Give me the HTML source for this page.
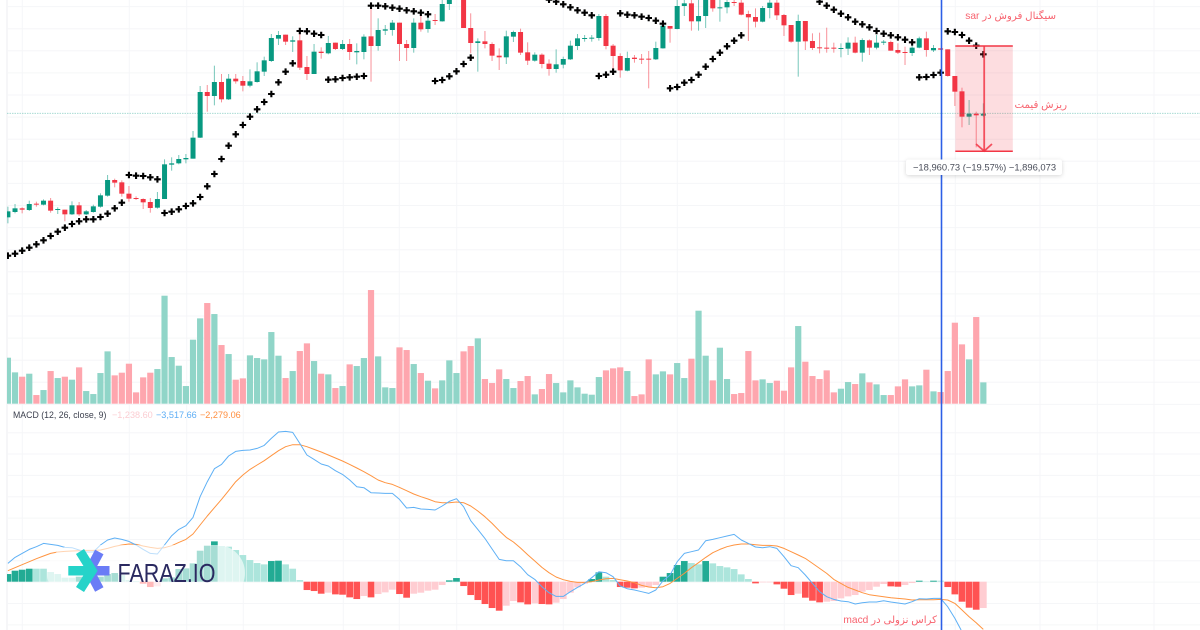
<!DOCTYPE html>
<html lang="en">
<head>
<meta charset="utf-8">
<title>Price chart with MACD</title>
<style>
html,body{margin:0;padding:0;background:#fff;width:1200px;height:630px;overflow:hidden}
svg{display:block;position:absolute;left:0;top:0;filter:blur(0.3px)}
text{font-family:"Liberation Sans","DejaVu Sans",sans-serif}
</style>
</head>
<body>
<svg id="chart" width="1200" height="630" viewBox="0 0 1200 630" xmlns="http://www.w3.org/2000/svg">
  <defs>
    <clipPath id="plotClip"><rect x="7" y="0" width="1193" height="630"/></clipPath>
    <filter id="tipShadow" x="-10%" y="-40%" width="120%" height="200%"><feDropShadow dx="0" dy="1" stdDeviation="2" flood-color="#000" flood-opacity="0.16"/></filter>
  </defs>
  <rect x="0" y="0" width="1200" height="630" fill="#fff"/>
  <line x1="7" y1="0" x2="7" y2="630" stroke="#eceef2" stroke-width="1"/>
  <g id="grid"></g>
  <g clip-path="url(#plotClip)">
    <g id="volumes"></g>
    <g id="candles"></g>
    <g id="priceLine"></g>
    <g id="sar"></g>
    <g id="histogram"></g>
    <g id="macdLines"></g>
  </g>

  <rect x="47" y="545" width="198" height="56" rx="28" ry="28" fill="#fff" fill-opacity="0.6"/>
  <g>
    <g fill="none" stroke-width="9.5" stroke-linejoin="miter">
      <polyline points="99.3,552 89.3,570.7 99.3,589.5" stroke="#6a7cf6"/>
      <line x1="89.3" y1="570.7" x2="109.5" y2="570.7" stroke="#6a7cf6"/>
      <polyline points="80,551.5 92,570.7 80,589.5" stroke="#25d3c9"/>
      <line x1="68.3" y1="570.7" x2="92" y2="570.7" stroke="#25d3c9"/>
    </g>
    <text x="117.5" y="581.8" font-size="25.5" fill="#2a2960" textLength="98" lengthAdjust="spacingAndGlyphs">FARAZ.IO</text>
  </g>

  <g>
    <text x="13" y="418" font-size="8.75" fill="#3b3f4d">MACD (12, 26, close, 9)</text>
    <text x="112" y="418" font-size="9.1" fill="#fbcdd2">−1,238.60</text>
    <text x="156" y="418" font-size="9.1" fill="#5eaef5">−3,517.66</text>
    <text x="200" y="418" font-size="9.1" fill="#ff8f3f">−2,279.06</text>
  </g>

  <line x1="941.5" y1="0" x2="941.5" y2="630" stroke="#2c5fe6" stroke-width="1.6"/>

  <g>
    <rect x="955.3" y="46" width="57.5" height="105.3" fill="#f23645" fill-opacity="0.17"/>
    <line x1="955.3" y1="46" x2="1012.8" y2="46" stroke="#f23645" stroke-width="1.5"/>
    <line x1="955.3" y1="151.3" x2="1012.8" y2="151.3" stroke="#f23645" stroke-width="1.5"/>
    <line x1="984.2" y1="46" x2="984.2" y2="151" stroke="#f23645" stroke-opacity="0.85" stroke-width="1.8"/>
    <polyline points="976,144 984.2,151 992,144" fill="none" stroke="#f23645" stroke-opacity="0.85" stroke-width="1.8"/>
    <rect x="906" y="159.5" width="156" height="15.5" rx="2.5" fill="#fff" filter="url(#tipShadow)"/>
    <text x="984.5" y="170.6" font-size="9.4" fill="#4a4e5a" text-anchor="middle">−18,960.73 (−19.57%) −1,896,073</text>
  </g>

  <text x="1056" y="19" font-size="10.2" fill="#f7626e" direction="rtl" text-anchor="start">سیگنال فروش در sar</text>
  <text x="1067" y="108" font-size="10.2" fill="#f7626e" direction="rtl" text-anchor="start">ریزش قیمت</text>
  <text x="937" y="623" font-size="10.2" fill="#f7626e" direction="rtl" text-anchor="start">کراس نزولی در macd</text>
</svg>

<script>
const opens = [248,264,275,270,289,286,298,272,271,257,284,257,264,280,313,360,353,319,306,303,294,277,303,406,410,422,424,487,624,612,654,602,664,657,643,654,685,717,784,796,775,779,699,678,745,740,772,753,768,743,744,791,762,808,810,832,768,756,832,813,840,836,888,905,910,816,771,776,768,733,728,790,804,743,718,736,709,693,706,722,762,784,784,786,852,763,732,688,727,724,724,722,755,822,813,882,890,836,852,900,875,878,894,892,858,849,835,876,892,855,825,775,837,777,758,757,757,754,754,772,742,779,757,773,774,750,744,741,757,785,749,755,752,672,626,550,559,553];
const closes = [266,275,271,288,287,298,268,273,257,284,257,266,281,314,360,352,319,304,303,293,276,303,407,410,423,426,487,624,612,654,602,664,656,643,656,686,719,786,795,775,779,697,678,745,741,771,753,768,744,747,790,762,810,812,832,768,756,832,812,838,837,888,900,935,816,771,776,768,733,728,791,804,742,718,736,708,693,707,723,763,785,786,787,852,762,732,689,726,723,722,722,756,823,814,882,890,836,852,900,875,878,894,892,856,848,835,876,892,854,824,775,837,776,756,756,755,755,756,772,742,780,757,772,775,748,742,742,757,785,750,756,751,672,625,550,559,554,559];
const highs = [280,288,278,298,295,302,306,278,271,296,294,270,286,320,375,364,359,342,311,305,306,324,422,428,435,438,507,642,645,703,678,678,678,672,692,713,730,798,807,796,791,800,732,768,758,792,772,780,783,770,797,885,845,825,840,832,780,845,860,850,858,900,930,950,920,860,785,807,773,755,808,808,814,773,743,740,722,752,730,778,798,795,795,858,858,768,740,745,735,738,747,775,828,822,905,905,905,900,905,905,905,905,905,905,868,875,882,905,905,858,825,856,837,800,802,817,772,770,788,790,785,782,795,780,778,770,760,782,790,805,765,755,752,672,637,600,565,590];
const lows = [230,260,260,267,280,284,262,258,236,255,252,254,262,277,310,338,310,295,300,273,262,274,303,388,407,410,424,486,565,584,593,600,649,626,638,652,672,714,765,765,744,690,660,678,724,737,750,750,720,707,722,655,748,795,793,717,717,742,805,802,825,835,870,905,816,740,685,755,717,690,708,774,735,705,715,695,673,682,695,720,750,775,775,778,752,685,667,686,712,708,635,720,754,772,812,852,808,808,816,865,835,860,882,854,777,818,833,845,840,792,772,670,750,750,740,742,742,728,735,740,715,735,752,765,748,738,705,732,755,730,744,750,670,582,518,525,458,550];
const sarValues = [133,139,148,157,167,179,192,205,217,228,236,242,242,249,259,275,292,375,373,372,368,362,261,265,272,282,290,309,341,378,423,463,497,525,550,572,594,618,653,685,710,807,806,799,795,661,662,666,668,670,672,883,883,881,877,874,869,866,862,857,657,660,671,686,708,727,null,null,null,null,null,null,null,null,null,null,901,895,887,878,869,862,854,672,676,685,860,856,854,850,846,838,829,635,639,652,660,676,700,723,742,761,778,794,null,null,null,null,null,null,null,null,null,null,895,883,871,859,848,835,827,818,807,799,794,788,781,773,668,669,675,682,806,804,795,778,763,737];
const volumesData = [138,94,81,90,26,41,98,77,81,72,109,38,29,92,157,85,93,120,34,79,93,104,324,140,114,53,192,256,302,269,176,149,72,76,145,137,133,215,144,77,98,158,181,128,90,88,47,53,118,113,137,341,142,49,47,169,161,119,92,69,46,70,130,92,157,173,196,74,62,103,74,47,68,83,28,44,89,62,34,70,49,30,27,80,100,106,109,98,23,28,133,88,97,88,122,77,135,279,144,70,168,74,29,32,158,70,73,62,69,39,109,233,126,83,74,100,34,45,65,59,91,64,58,26,26,52,73,52,55,102,37,35,98,243,178,133,260,64];
const histValues = [23,33,36,39,39,39,29,23,12,12,15,7,12,15,23,26,20,5,2,-6,-16,-14,10,13,38,40,55,93,108,121,107,105,95,80,65,56,52,62,63,52,39,5,-25,-28,-36,-33,-38,-39,-47,-52,-43,-47,-37,-32,-24,-37,-48,-36,-33,-27,-24,-10,4,11,-13,-40,-55,-67,-79,-87,-72,-58,-62,-68,-65,-67,-68,-63,-52,-33,-17,-6,8,28,15,5,-16,-18,-20,-18,-16,-10,15,26,50,62,56,52,62,55,47,43,38,22,8,-5,-2,-2,-8,-21,-40,-36,-48,-57,-62,-60,-58,-50,-44,-40,-30,-25,-15,-7,-14,-15,-10,-4,3,1,3,3,-16,-38,-60,-78,-84,-79];
const macdValues = [55,73,85,97,105,115,112,109,103,102,95,89,89,110,125,131,127,121,110,97,85,83,110,138,157,168,193,255,300,339,352,377,391,394,395,400,409,430,449,451,448,415,380,367,353,347,333,322,305,285,282,267,266,265,265,247,221,223,218,217,215,227,241,249,225,183,157,130,98,67,63,63,45,21,7,-15,-33,-44,-44,-30,-17,-5,12,30,27,15,-13,-21,-25,-30,-35,-25,2,20,60,85,90,95,123,127,132,137,142,125,115,104,102,105,100,75,48,42,20,-5,-30,-45,-53,-58,-60,-67,-63,-61,-61,-57,-61,-64,-67,-60,-51,-52,-50,-50,-75,-110,-150,-205,-260,-300];
const signalValues = [33,42,51,60,69,77,85,89,91,92,93,94,94,95,100,106,110,113,112,107,103,100,102,108,118,127,143,170,197,222,247,273,300,320,337,350,363,378,393,405,411,411,405,397,389,380,371,362,352,341,330,318,305,297,292,283,273,263,255,248,240,237,237,239,237,227,212,195,175,153,133,119,101,81,62,43,27,14,6,1,-2,-2,0,5,9,10,6,2,-3,-11,-16,-18,-15,-5,10,25,42,57,73,87,97,105,110,113,113,111,109,109,107,100,90,80,70,55,40,25,7,-5,-17,-25,-33,-39,-42,-45,-48,-50,-52,-55,-54,-54,-54,-53,-55,-65,-85,-105,-123,-143];
const lastPrice = 560;

const NS = 'http://www.w3.org/2000/svg';
const FRAME_BOTTOM = 630;
const xBar = function (i) { return 7.9 + 7.12 * i; };
const yPrice = function (v) { return (900 - v) / 3; };
const yVolume = function (v) { return 403.7 - v / 3; };
const yMacd = function (v) { return 581.7 - v / 3; };
const UP = '#089981', DOWN = '#f23645';

function make(tag, parent, attrs) {
  const el = document.createElementNS(NS, tag);
  for (const k in attrs) el.setAttribute(k, attrs[k]);
  parent.appendChild(el);
  return el;
}

/* grid */
const gridG = document.getElementById('grid');
for (let y = 6.6; y < 406; y += 22.1) {
  const el = make('line', gridG, { x1: 7, x2: 1200, y1: y, y2: y, stroke: '#f5f6f8', 'stroke-width': 1 });
  
  
}
for (let y = 432.7; y < 630; y += 21.35) {
  const el = make('line', gridG, { x1: 7, x2: 1200, y1: y, y2: y, stroke: '#f5f6f8', 'stroke-width': 1 });
  
  
}
[22.3, 129.3, 186.7, 243.3, 343.3, 399.3, 456.7, 563.3, 620.7, 677.3, 784.3, 841.7, 898.7, 955.3, 1040, 1097.3, 1154].forEach(function (x) {
  const el = make('line', gridG, { x1: x, x2: x, y1: 0, y2: 630, stroke: '#f5f6f8', 'stroke-width': 1 });
  
  
});

/* volume */
const volG = document.getElementById('volumes');
volumesData.forEach(function (v, i) {
  const up = closes[i] >= opens[i];
  const el = make('rect', volG, { x: xBar(i) - 3.1, y: yVolume(v), width: 6.2, height: v / 3, fill: up ? '#90d5c8' : '#fea6ae' });
  
  
});

/* candles */
const candleG = document.getElementById('candles');
opens.forEach(function (o, i) {
  const c = closes[i], up = c >= o, col = up ? UP : DOWN, x = xBar(i);
  const wick = make('line', candleG, { x1: x, x2: x, y1: yPrice(highs[i]), y2: yPrice(lows[i]), stroke: col, 'stroke-width': 1, 'stroke-opacity': 0.55 });
  
  
  const top = yPrice(Math.max(o, c)), bot = yPrice(Math.min(o, c));
  const body = make('rect', candleG, { x: x - 2.5, y: top, width: 5, height: Math.max(bot - top, 1), fill: col });
  
  
});

/* last price line */
const priceG = document.getElementById('priceLine');
const priceLineEl = make('line', priceG, { x1: 7, x2: 1200, y1: yPrice(lastPrice), y2: yPrice(lastPrice), stroke: '#089981', 'stroke-opacity': 0.4, 'stroke-width': 0.8, 'stroke-dasharray': '1.5 1' });



/* parabolic SAR */
const sarG = document.getElementById('sar');
sarValues.forEach(function (v, i) {
  if (v === null) return;
  const x = xBar(i), y = yPrice(v);
  const el = make('path', sarG, { d: 'M' + (x - 3.3) + ' ' + y + 'H' + (x + 3.3) + 'M' + x + ' ' + (y - 3.3) + 'V' + (y + 3.3), stroke: '#000', 'stroke-width': 2.1, fill: 'none' });
  
  
});

/* MACD histogram */
const histG = document.getElementById('histogram');
histValues.forEach(function (v, i) {
  const prev = i > 0 ? histValues[i - 1] : -Infinity;
  let col;
  if (v >= 0) col = v > prev ? '#22ab94' : '#ace5dc';
  else col = v < prev ? '#ff5252' : '#ffcdd2';
  const h = Math.abs(v) / 3;
  const el = make('rect', histG, { x: xBar(i) - 3.35, y: v >= 0 ? yMacd(v) : yMacd(0), width: 6.7, height: h, fill: col });
  
  
});

/* MACD lines: a line stops where it leaves the bottom of the frame */
const linesG = document.getElementById('macdLines');
function linePoints(arr) {
  const pts = [];
  for (let i = 0; i < arr.length; i++) {
    const x = xBar(i), y = yMacd(arr[i]);
    if (y > FRAME_BOTTOM) {
      if (i > 0) {
        const px = xBar(i - 1), py = yMacd(arr[i - 1]);
        const t = (FRAME_BOTTOM - py) / (y - py);
        pts.push((px + (x - px) * t).toFixed(1) + ',' + FRAME_BOTTOM);
      }
      break;
    }
    pts.push(x.toFixed(1) + ',' + y.toFixed(1));
  }
  return pts.join(' ');
}
const signalLine = make('polyline', linesG, { points: linePoints(signalValues), fill: 'none', stroke: '#ff9440', 'stroke-width': 1, 'stroke-linejoin': 'round' });


const macdLine = make('polyline', linesG, { points: linePoints(macdValues), fill: 'none', stroke: '#5eb0f5', 'stroke-width': 1, 'stroke-linejoin': 'round' });


</script>
</body>
</html>
